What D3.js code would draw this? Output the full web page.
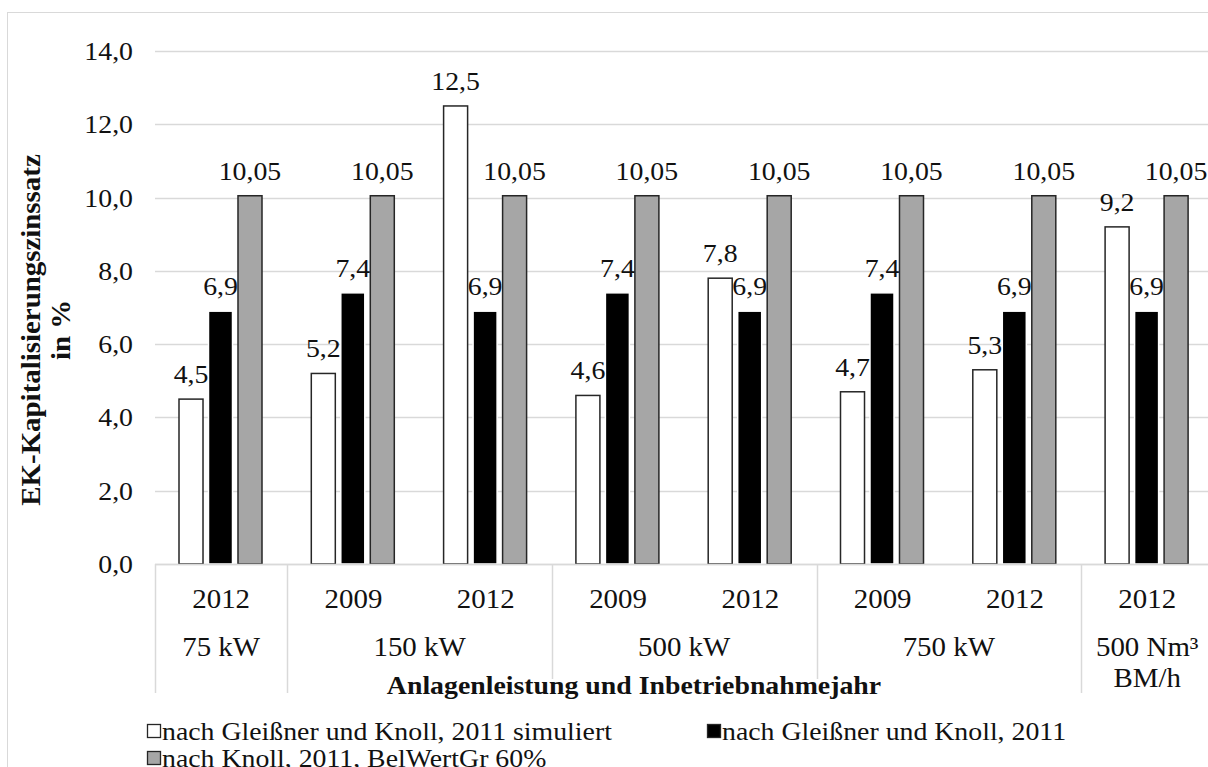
<!DOCTYPE html>
<html>
<head>
<meta charset="utf-8">
<script src="https://cdn.jsdelivr.net/npm/d3@7"></script>
<style>
  html, body { margin: 0; padding: 0; background: #fff; }
  svg { display: block; }
  text { font-family: "Liberation Serif", "Times New Roman", serif; fill: #111; }
</style>
</head>
<body>
<svg id="chart" width="1208" height="767"></svg>
<script>
// Installation years (inner category level)
const years = ["2012", "2009", "2012", "2009", "2012", "2009", "2012", "2012"];
// Plant capacity (outer category level) and how many years each spans
const capacities = ["75 kW", "150 kW", "500 kW", "750 kW", "500 Nm³|BM/h"];
const capacitySpans = [1, 2, 2, 2, 1];

// Series
const seriesNames = [
  "nach Gleißner und Knoll, 2011 simuliert",
  "nach Gleißner und Knoll, 2011",
  "nach Knoll, 2011, BelWertGr 60%"
];
const simuliert = [4.5, 5.2, 12.5, 4.6, 7.8, 4.7, 5.3, 9.2];
const gleissnerKnoll = [6.9, 7.4, 6.9, 7.4, 6.9, 7.4, 6.9, 6.9];
const knollBelWert = [10.05, 10.05, 10.05, 10.05, 10.05, 10.05, 10.05, 10.05];
const seriesDecimals = [1, 1, 2];

const yTicks = [0, 2, 4, 6, 8, 10, 12, 14];

const fills = ["#ffffff", "#000000", "#a6a6a6"];
const strokes = ["#262626", "#ffffff", "#262626"];

const svg = d3.select("#chart");
const SX = 1.07;            // slight horizontal stretch of the serif type
const FS = 26;

function label(parent, x, y, str, anchor, opts = {}) {
  const rot = opts.rotate ? ` rotate(${opts.rotate})` : "";
  return parent.append("text")
    .attr("transform", `translate(${x},${y})${rot} scale(${SX},1)`)
    .attr("text-anchor", anchor)
    .attr("font-size", opts.size || FS)
    .attr("font-weight", opts.bold ? "bold" : "normal")
    .text(str);
}

const comma = (v, d) => v.toFixed(d).replace(".", ",");

// Chart frame
svg.append("rect")
  .attr("x", 7.5).attr("y", 12.5)
  .attr("width", 1240).attr("height", 800)
  .attr("fill", "none").attr("stroke", "#d9d9d9").attr("stroke-width", 1);

const left = 155, groupW = 132.3;
const x = d3.scaleBand().domain(d3.range(years.length))
  .range([left, left + groupW * years.length]).padding(0);
const xs = d3.scaleBand().domain(d3.range(seriesNames.length))
  .range([24, 107]).paddingInner(0.186).paddingOuter(0);
const y = d3.scaleLinear().domain([0, 14]).range([564, 51]);

// Gridlines
svg.append("g").selectAll("line").data(yTicks).join("line")
  .attr("x1", left).attr("x2", 1240)
  .attr("y1", d => Math.round(y(d)) + 0.5).attr("y2", d => Math.round(y(d)) + 0.5)
  .attr("stroke", "#d9d9d9").attr("stroke-width", 1.5);

// Y tick labels
const yl = svg.append("g");
yTicks.forEach(t => label(yl, 133, y(t) + 9, comma(t, 1), "end"));

// Bars
const allSeries = [simuliert, gleissnerKnoll, knollBelWert];
const bars = svg.append("g");
allSeries.forEach((vals, s) => {
  bars.selectAll(null).data(vals).join("rect")
    .attr("x", (d, i) => x(i) + xs(s))
    .attr("width", xs.bandwidth())
    .attr("y", d => y(d))
    .attr("height", d => y(0) - y(d))
    .attr("fill", fills[s])
    .attr("stroke", strokes[s])
    .attr("stroke-width", 1.5);
});

// Value labels
const vl = svg.append("g");
allSeries.forEach((vals, s) => {
  vals.forEach((v, i) => {
    label(vl, x(i) + xs(s) + xs.bandwidth() / 2, y(v) - 16, comma(v, seriesDecimals[s]), "middle");
  });
});

// Category axis: baseline and group separators
const axisY = 564;
svg.append("line")
  .attr("x1", left).attr("x2", 1240)
  .attr("y1", axisY + 0.5).attr("y2", axisY + 0.5)
  .attr("stroke", "#d9d9d9").attr("stroke-width", 1.5);

let startIdx = 0;
const bounds = [0];
capacitySpans.forEach(n => { startIdx += n; bounds.push(startIdx); });
svg.append("g").selectAll("line").data(bounds.slice(0, -1)).join("line")
  .attr("x1", d => Math.round(x(d)) + 0.5).attr("x2", d => Math.round(x(d)) + 0.5)
  .attr("y1", axisY).attr("y2", 693)
  .attr("stroke", "#d9d9d9").attr("stroke-width", 1.5);

// Year labels
const cl = svg.append("g");
years.forEach((yr, i) => label(cl, x(i) + x.bandwidth() / 2, 608, yr, "middle", { size: 27 }));

// Capacity labels
capacities.forEach((c, k) => {
  const x0 = x(bounds[k]), x1 = x0 + groupW * capacitySpans[k];
  const lines = c.split("|");
  lines.forEach((ln, j) => label(cl, (x0 + x1) / 2, 656 + j * 31, ln, "middle", { size: 27 }));
});

// X axis title with white backing
const xt = svg.append("g");
xt.append("rect").attr("x", 382).attr("y", 679).attr("width", 505).attr("height", 24).attr("fill", "#fff");
label(xt, 634, 694, "Anlagenleistung und Inbetriebnahmejahr", "middle", { bold: true, size: 26 });

// Y axis title
const yt = svg.append("g");
label(yt, 40, 330, "EK-Kapitalisierungszinssatz", "middle", { bold: true, size: 27, rotate: -90 });
label(yt, 70, 330, "in %", "middle", { bold: true, size: 27, rotate: -90 });

// Legend
const legendPos = [[147, 740], [707, 740], [147, 767]];
const lg = svg.append("g");
seriesNames.forEach((n, s) => {
  const [lx, ly] = legendPos[s];
  lg.append("rect")
    .attr("x", lx + 0.5).attr("y", ly - 15.5).attr("width", 13).attr("height", 13)
    .attr("fill", fills[s]).attr("stroke", "#262626").attr("stroke-width", 1.3);
  label(lg, lx + 15, ly, n, "start", { size: 26 });
});
</script>
</body>
</html>
